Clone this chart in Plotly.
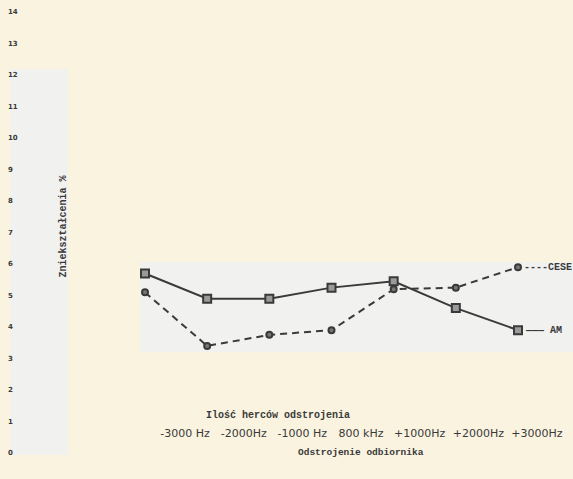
import plotly.graph_objects as go

# ---- data ----
x_idx = [0, 1, 2, 3, 4, 5, 6]
tick_labels = ["-3000 Hz", "-2000Hz", "-1000 Hz", "800 kHz", "+1000Hz", "+2000Hz", "+3000Hz"]
am_values = [5.7, 4.9, 4.9, 5.25, 5.45, 4.6, 3.9]
cese_values = [5.1, 3.4, 3.75, 3.9, 5.2, 5.25, 5.9]
y_ticks = list(range(0, 15))
series_names = ["AM", "CESE"]

W, H = 573, 479
CREAM = "#f9f3e0"
WHITE = "#f1f1ef"
INK = "#3a3a3a"

def px(xp):
    return xp / W

def py(yp):
    return 1 - yp / H

fig = go.Figure()

fig.add_trace(go.Scatter(
    x=x_idx, y=cese_values, mode="lines+markers", name=series_names[1],
    line=dict(color=INK, width=2, dash="7px,5px"),
    marker=dict(symbol="circle", size=6, color="#777", line=dict(color=INK, width=2)),
    showlegend=False,
))
fig.add_trace(go.Scatter(
    x=x_idx, y=am_values, mode="lines+markers", name=series_names[0],
    line=dict(color=INK, width=2),
    marker=dict(symbol="square", size=8, color="#9a9a9a", line=dict(color=INK, width=2)),
    showlegend=False,
))
# axis used only for the bottom tick labels
fig.add_trace(go.Scatter(x=tick_labels, y=[None]*len(tick_labels), xaxis="x2", yaxis="y",
                         mode="markers", showlegend=False, hoverinfo="skip"))

shapes = [
    dict(type="rect", xref="paper", yref="paper", x0=px(10), x1=px(68), y0=py(455), y1=py(69),
         fillcolor=WHITE, line=dict(width=0), layer="below"),
    dict(type="rect", xref="paper", yref="paper", x0=px(140), x1=px(573), y0=py(352), y1=py(262),
         fillcolor=WHITE, line=dict(width=0), layer="below"),
]

mono = "Liberation Mono"
annotations = [
    dict(x=x_idx[-1], y=am_values[-1], xref="x", yref="y", text="\u2014\u2014\u2014 AM", showarrow=False,
         xanchor="left", xshift=5, font=dict(family=mono, size=10, color=INK, weight="bold")),
    dict(x=x_idx[-1], y=cese_values[-1], xref="x", yref="y", text="----CESE", showarrow=False,
         xanchor="left", xshift=4, font=dict(family=mono, size=10, color=INK, weight="bold")),
    dict(x=px(278), y=py(423), xref="paper", yref="paper", text="Ilość herców odstrojenia",
         showarrow=False, font=dict(family=mono, size=10, color=INK, weight="bold")),
    dict(x=px(361), y=py(460), xref="paper", yref="paper", text="Odstrojenie odbiornika",
         showarrow=False, font=dict(family=mono, size=9.5, color=INK, weight="bold")),
    dict(x=px(55), y=py(227), xref="paper", yref="paper", text="Zniekształcenia %",
         showarrow=False, textangle=-90, font=dict(family=mono, size=10, color=INK, weight="bold")),
]

unit_x = (518 - 145) / 6
unit_y = 31.5
fig.update_layout(
    width=W, height=H,
    margin=dict(l=0, r=0, t=0, b=0),
    paper_bgcolor=CREAM, plot_bgcolor="rgba(0,0,0,0)",
    shapes=shapes, annotations=annotations,
    xaxis=dict(range=[-145 / unit_x, (W - 145) / unit_x], domain=[0, 1], visible=False),
    yaxis=dict(range=[-(H - 453) / unit_y, 453 / unit_y], domain=[0, 1],
               tickvals=y_ticks, ticktext=[str(v) for v in y_ticks],
               ticklabelposition="inside", ticklabelstandoff=5, ticks="",
               showgrid=False, zeroline=False, showline=False,
               tickfont=dict(family="DejaVu Sans", size=7, color=INK, weight="bold")),
    xaxis2=dict(anchor="free", position=py(425), domain=[0.2717, 0.9883],
                type="category", range=[-0.5, 6.5], side="bottom",
                showgrid=False, zeroline=False, showline=False, ticks="",
                tickfont=dict(family="DejaVu Sans", size=11, color=INK)),
)

fig.write_html("out.html", config={"displayModeBar": False},
               post_script="document.body.style.margin='0';document.body.style.background='%s';" % CREAM)
